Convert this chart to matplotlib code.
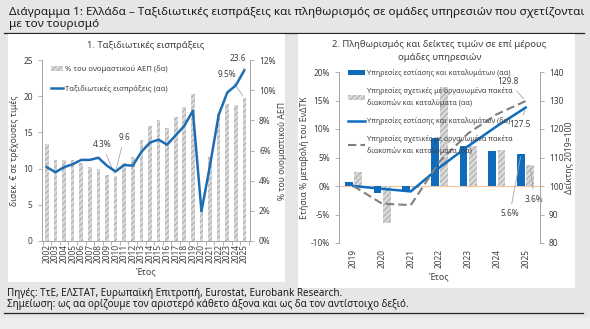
import numpy as np
import matplotlib.pyplot as plt
from matplotlib.lines import Line2D
from matplotlib.patches import Patch, Rectangle

plt.rcParams['font.family'] = ['Noto Sans', 'DejaVu Sans']
plt.rcParams['hatch.linewidth'] = 0.7

# Γράφημα 1 - ταξιδιωτικές εισπράξεις
years1 = [str(y) for y in range(2002, 2026)]
receipts = [10.2, 9.5, 10.2, 10.6, 11.2, 11.2, 11.5, 10.4, 9.6, 10.5, 10.4, 12.3,
            13.6, 14.0, 13.3, 14.6, 15.9, 18.0, 4.1, 10.5, 17.4, 20.5, 21.5, 23.6]
gdp_share = [6.4, 5.4, 5.4, 5.4, 5.2, 4.9, 4.8, 4.4, 4.3, 5.2, 5.55, 6.7,
             7.6, 8.0, 7.5, 8.2, 8.9, 9.75, 2.6, 5.6, 8.5, 9.1, 9.0, 9.5]

# Γράφημα 2 - πληθωρισμός και δείκτες
years2 = ['2019', '2020', '2021', '2022', '2023', '2024', '2025']
infl_food = [0.7, -1.2, -0.8, 8.5, 7.0, 6.2, 5.6]
infl_pack = [2.4, -6.5, -0.3, 17.4, 7.0, 6.4, 3.6]
idx_food = [100, 99.0, 98.1, 106.5, 114.0, 121.0, 127.5]
idx_pack = [100, 93.8, 93.3, 108.5, 118.5, 125.2, 129.8]

bg = '#e6e6e6'
blue = '#0f6cbd'
line_blue = '#1d6db3'
txt = '#404040'
axc = '#a6a6a6'

fig = plt.figure(figsize=(5.9, 3.29), dpi=100)
fig.patch.set_facecolor(bg)
H = 329.0
W = 590.0

def fx(px):
    return px / W

def fy(py):
    return 1 - py / H

# φόντα
fig.add_artist(Rectangle((0, 0), 1, fy(318), transform=fig.transFigure,
                         facecolor='#eeeeee', edgecolor='none', zorder=-3))
fig.add_artist(Rectangle((fx(8), fy(282)), fx(277), 248 / H, transform=fig.transFigure,
                         facecolor='white', edgecolor='none', zorder=-2))
fig.add_artist(Rectangle((fx(298), fy(288)), fx(277), 254 / H, transform=fig.transFigure,
                         facecolor='white', edgecolor='none', zorder=-2))
fig.add_artist(Line2D([fx(4), fx(584)], [fy(32.5)] * 2, color='#222222', lw=0.9, zorder=-2.5))
fig.add_artist(Line2D([fx(4), fx(583)], [fy(312.5)] * 2, color='#222222', lw=0.9, zorder=-2.5))

fig.text(fx(9), fy(12), 'Διάγραμμα 1: Ελλάδα – Ταξιδιωτικές εισπράξεις και πληθωρισμός σε ομάδες υπηρεσιών που σχετίζονται',
         fontsize=8.4, color='#1a1a1a', va='center', ha='left')
fig.text(fx(9), fy(25), 'με τον τουρισμό', fontsize=8.4, color='#1a1a1a', va='center', ha='left')
fig.text(fx(7), fy(293.5), 'Πηγές: ΤτΕ, ΕΛΣΤΑΤ, Ευρωπαϊκή Επιτροπή, Eurostat, Eurobank Research.',
         fontsize=7.1, color='#1a1a1a', va='center')
fig.text(fx(7), fy(304.5), 'Σημείωση: ως αα ορίζουμε τον αριστερό κάθετο άξονα και ως δα τον αντίστοιχο δεξιό.',
         fontsize=7.1, color='#1a1a1a', va='center')

def style_axis(ax):
    ax.spines['top'].set_visible(False)
    for s in ['left', 'right', 'bottom']:
        ax.spines[s].set_color(axc)
        ax.spines[s].set_linewidth(0.7)
    ax.tick_params(colors=txt, labelsize=6, length=3, width=0.6, color=axc)
    ax.set_facecolor('none')

# ---------- γράφημα 1 ----------
ax1 = fig.add_axes([fx(41.7), fy(241), fx(250 - 41.7), 181 / H])
ax1r = ax1.twinx()
ax1r.set_zorder(1)
ax1.set_zorder(2)
x1 = np.arange(len(years1))
ax1r.bar(x1, gdp_share, width=0.42, color='#d9d9d9', edgecolor='#a9a9a9',
         hatch='//////', linewidth=0, zorder=1)
ax1r.set_ylim(0, 12)
ax1r.set_yticks(np.arange(0, 13, 2))
ax1r.set_yticklabels([f'{v}%' for v in range(0, 13, 2)])
ax1.plot(x1, receipts, color=line_blue, lw=1.8, zorder=3)
ax1.set_ylim(0, 25)
ax1.set_yticks(np.arange(0, 26, 5))
ax1.set_xlim(-0.6, 23.65)
ax1.set_xticks(x1)
ax1.set_xticklabels(years1, rotation=90)
ax1.set_xticks(np.arange(-0.5, 24, 1), minor=True)
for a in (ax1, ax1r):
    style_axis(a)
ax1.tick_params(axis='x', which='major', length=0, pad=2)
ax1.tick_params(axis='x', which='minor', length=3, color=axc, width=0.6)
ax1.set_ylabel('δισεκ. € σε τρέχουσες τιμές', fontsize=6.2, color=txt, labelpad=3)
ax1r.set_ylabel('% του ονομαστικού ΑΕΠ', fontsize=6.2, color=txt, labelpad=2, rotation=90)
ax1.set_xlabel('Έτος', fontsize=6.4, color=txt, labelpad=3)
ax1.set_title('1. Ταξιδιωτικές εισπράξεις', fontsize=6.8, color=txt, pad=9)

h1 = [Patch(facecolor='#d9d9d9', edgecolor='#a9a9a9', hatch='//////', linewidth=0),
      Line2D([], [], color=line_blue, lw=1.8)]
ax1.legend(h1, ['% του ονομαστικού ΑΕΠ (δα)', 'Ταξιδιωτικές εισπράξεις (αα)'],
           loc='upper left', bbox_to_anchor=(0.02, 1.0), frameon=False, fontsize=5.5,
           labelcolor=txt, handlelength=1.6, handletextpad=0.2, labelspacing=1.5,
           borderpad=0.2)

ann = dict(fontsize=6.0, color=txt, ha='center', va='center')
lk = dict(arrowstyle='-', color=axc, lw=0.6)
ax1r.annotate('4.3%', xy=(8, gdp_share[8]), xytext=(6.4, 6.4), arrowprops=lk, **ann)
ax1.annotate('9.6', xy=(8, receipts[8]), xytext=(9.0, 14.3), arrowprops=lk, **ann)
ax1r.annotate('9.5%', xy=(23, gdp_share[23]), xytext=(21.0, 11.05), arrowprops=lk, **ann)
ax1.annotate('23.6', xy=(23, receipts[23]), xytext=(22.2, 25.2), arrowprops=lk, **ann)

# ---------- γράφημα 2 ----------
ax2 = fig.add_axes([fx(339), fy(243), fx(540 - 339), (243 - 72) / H])
ax2r = ax2.twinx()
ax2.set_zorder(1)
ax2r.set_zorder(2)
x2 = np.arange(len(years2))
ax2.axhline(0, color='#f4c7a0', lw=0.9, zorder=0.5)
ax2.bar(x2 - 0.16, infl_food, width=0.27, color=blue, zorder=2)
ax2.bar(x2 + 0.16, infl_pack, width=0.27, color='#d9d9d9', edgecolor='#a9a9a9',
        hatch='//////', linewidth=0, zorder=2)
ax2.set_ylim(-10, 20)
ax2.set_yticks(np.arange(-10, 21, 5))
ax2.set_yticklabels([f'{v}%' for v in range(-10, 21, 5)])
ax2.set_xlim(-0.5, 6.5)
ax2.set_xticks(x2)
ax2.set_xticklabels(years2, rotation=90)
ax2r.plot(x2, idx_food, color=blue, lw=1.8, zorder=3)
ax2r.plot(x2, idx_pack, color='#7f7f7f', lw=1.5, ls=(0, (4, 2)), zorder=3)
ax2r.set_ylim(80, 140)
ax2r.set_yticks(np.arange(80, 141, 10))
for a in (ax2, ax2r):
    style_axis(a)
ax2.tick_params(axis='x', length=0, pad=4)
ax2.spines['bottom'].set_visible(False)
ax2r.spines['bottom'].set_visible(False)
ax2.set_ylabel('Ετήσια % μεταβολή του ΕνΔΤΚ', fontsize=6.2, color=txt, labelpad=1)
ax2r.set_ylabel('Δείκτης 2019=100', fontsize=6.2, color=txt, labelpad=1)
ax2.set_xlabel('Έτος', fontsize=6.4, color=txt, labelpad=3)
ax2.set_title('2. Πληθωρισμός και δείκτες τιμών σε επί μέρους\nομάδες υπηρεσιών',
              fontsize=6.8, color=txt, pad=9, linespacing=1.5)

h2 = [Patch(facecolor=blue),
      Patch(facecolor='#d9d9d9', edgecolor='#a9a9a9', hatch='//////', linewidth=0),
      Line2D([], [], color=blue, lw=1.8),
      Line2D([], [], color='#7f7f7f', lw=1.5, ls=(0, (4, 2)))]
l2 = ['Υπηρεσίες εστίασης και καταλυμάτων (αα)',
      'Υπηρεσίες σχετικές με οργανωμένα πακέτα\nδιακοπών και καταλύματα (αα)',
      'Υπηρεσίες εστίασης και καταλυμάτων (δα)',
      'Υπηρεσίες σχετικές με οργανωμένα πακέτα\nδιακοπών και καταλύματα (δα)']
leg2 = ax2r.legend(h2, l2, loc='upper left', bbox_to_anchor=(0.02, 1.045), frameon=False,
                   fontsize=5.2, labelcolor=txt, handlelength=2.4, handletextpad=0.2,
                   labelspacing=1.4, borderpad=0.2)
for t in leg2.get_texts():
    t.set_linespacing(1.6)

ax2r.annotate('129.8', xy=(6, idx_pack[6]), xytext=(5.4, 136.6), arrowprops=lk, **ann)
ax2r.annotate('127.5', xy=(6, idx_food[6]), xytext=(5.8, 121.5), arrowprops=lk, **ann)
ax2.annotate('5.6%', xy=(5.84, infl_food[6]), xytext=(5.45, -4.9), arrowprops=lk, **ann)
ax2.annotate('3.6%', xy=(6.16, infl_pack[6]), xytext=(6.3, -2.3), arrowprops=lk, **ann)

fig.savefig('out.png', dpi=100, facecolor=bg)
